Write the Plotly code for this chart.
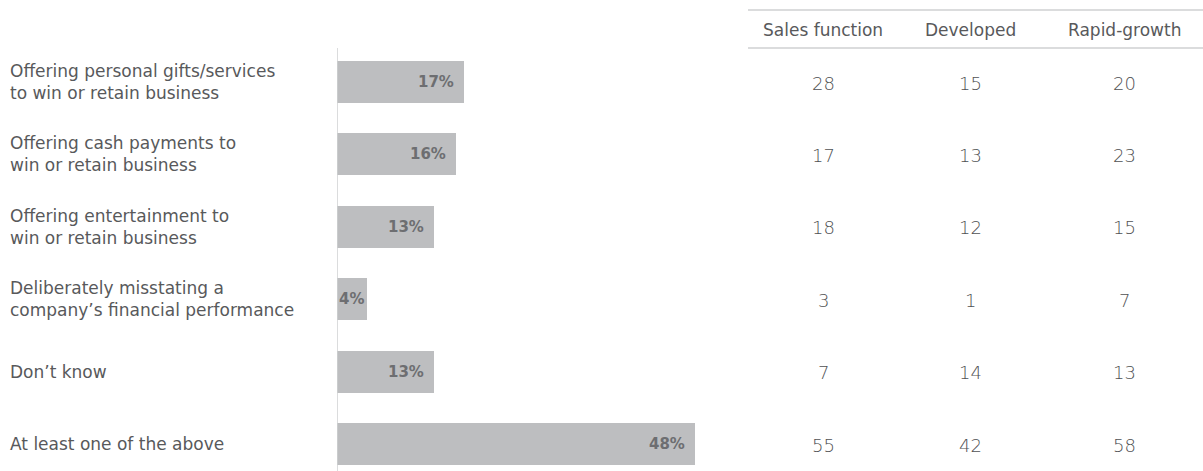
import plotly.graph_objects as go

W, H = 1203, 471

categories = [
    "Offering personal gifts/services<br>to win or retain business",
    "Offering cash payments to<br>win or retain business",
    "Offering entertainment to<br>win or retain business",
    "Deliberately misstating a<br>company’s financial performance",
    "Don’t know",
    "At least one of the above",
]
overall = [17, 16, 13, 4, 13, 48]

table_headers = ["Sales function", "Developed", "Rapid-growth"]
sales_function = [28, 17, 18, 3, 7, 55]
developed = [15, 13, 12, 1, 14, 42]
rapid_growth = [20, 23, 15, 7, 13, 58]

FONT = "DejaVu Sans"
LABEL_COLOR = "#58595b"
NUM_COLOR = "#6d6e71"
TABLE_COLOR = "#505153"
BAR_COLOR = "#bdbec0"
RULE_COLOR = "#cfd0d2"

# pixel geometry of the layout
row_top = 82.0        # centre of first row (px from top)
row_step = 72.4       # distance between rows (px)
axis_x = 337.0        # left edge of bars (px)
px_per_unit = 7.45    # horizontal px per percentage point

y_pos = list(range(len(categories)))
y_top = -row_top / row_step
y_bottom = (H - row_top) / row_step
x_max = (W - axis_x) / px_per_unit

fig = go.Figure()
fig.add_trace(go.Bar(
    x=overall,
    y=y_pos,
    orientation="h",
    marker=dict(color=BAR_COLOR, line=dict(width=0)),
    width=0.58,
    hoverinfo="skip",
))

annotations = []

# bar value labels, right-aligned inside each bar
for v, y in zip(overall, y_pos):
    bar_px = v * px_per_unit
    if bar_px > 50:
        annotations.append(dict(x=v, y=y, xref="x", yref="y", text=f"<b>{v}%</b>",
                                showarrow=False, xanchor="right", xshift=-8,
                                font=dict(family=FONT, size=15, color=NUM_COLOR)))
    else:
        annotations.append(dict(x=0, y=y, xref="x", yref="y", text=f"<b>{v}%</b>",
                                showarrow=False, xanchor="left", xshift=0,
                                font=dict(family=FONT, size=15, color=NUM_COLOR)))

# category labels on the left
for c, y in zip(categories, y_pos):
    annotations.append(dict(x=8 / W, y=y, xref="paper", yref="y", text=c,
                            showarrow=False, xanchor="left", align="left",
                            font=dict(family=FONT, size=17, color=LABEL_COLOR)))

# side table
col_centers = [823 / W, 971 / W, 1124 / W]
for cx, head, vals in zip(col_centers, table_headers,
                          [sales_function, developed, rapid_growth]):
    annotations.append(dict(x=cx, y=1 - 30 / H, xref="paper", yref="paper", text=head,
                            showarrow=False, xanchor="center", yanchor="middle",
                            font=dict(family=FONT, size=17, color=LABEL_COLOR)))
    for v, y in zip(vals, y_pos):
        annotations.append(dict(x=cx, y=y, xref="paper", yref="y", text=str(v),
                                showarrow=False, xanchor="center", yshift=-1,
                                font=dict(family=FONT, size=18, color=TABLE_COLOR,
                                          weight=300)))

shapes = [
    # vertical baseline of the bars
    dict(type="line", xref="x", yref="paper", x0=0, x1=0,
         y0=0, y1=1 - 48 / H, line=dict(color=RULE_COLOR, width=1.5)),
    # table header rules
    dict(type="line", xref="paper", yref="paper", x0=748 / W, x1=1,
         y0=1 - 10 / H, y1=1 - 10 / H, line=dict(color=RULE_COLOR, width=1.5)),
    dict(type="line", xref="paper", yref="paper", x0=748 / W, x1=1,
         y0=1 - 48 / H, y1=1 - 48 / H, line=dict(color=RULE_COLOR, width=1.5)),
]

fig.update_layout(
    width=W, height=H,
    margin=dict(l=0, r=0, t=0, b=0),
    paper_bgcolor="white", plot_bgcolor="white",
    showlegend=False,
    xaxis=dict(domain=[axis_x / W, 1], range=[0, x_max], visible=False, fixedrange=True),
    yaxis=dict(range=[y_bottom, y_top], visible=False, fixedrange=True),
    annotations=annotations,
    shapes=shapes,
    bargap=0,
)

fig.write_html("out.html", config={"displayModeBar": False})
